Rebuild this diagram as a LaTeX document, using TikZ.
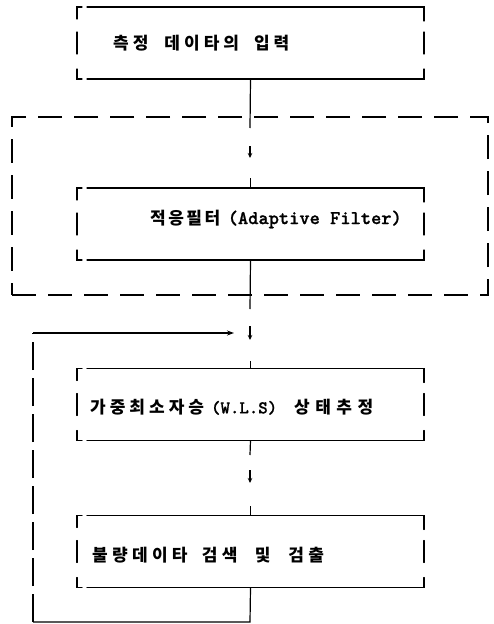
\documentclass[tikz,border=0pt]{standalone}
\usepackage{fontspec}
\usetikzlibrary{calc,arrows.meta}
\newfontfamily\krfont{Noto Sans CJK KR}
\newfontfamily\mofont{lmmonolt10-bold.otf}[FakeBold=1]
\newlength\lsp
\def\spacedchars#1{\spacedcharsi#1\relax}
\def\spacedcharsi#1{\ifx#1\relax\else#1\hspace{\lsp}\expandafter\spacedcharsi\fi}
\newcommand{\krtxt}[3]{{\krfont\bfseries\fontsize{#1}{#1}\selectfont\setlength\lsp{#2pt}\spacedchars{#3}}}
\newcommand{\motxt}[2]{{\mofont\fontsize{#1}{#1}\selectfont #2}}
\tikzset{
  frame/.style={line width=1.3pt, line cap=round},
  boxarea/.style={rectangle, minimum width=347pt, minimum height=72pt, inner sep=0pt, outer sep=0pt},
  label/.style={anchor=west, inner sep=0pt},
  conn/.style={line width=1.2pt},
  smallarrow/.style={line width=1.2pt, -{Stealth[length=5pt,width=4.5pt]}},
  dashbox/.style={rectangle, draw, line width=1.3pt, dash pattern=on 24pt off 12pt, minimum width=476pt, minimum height=178pt, inner sep=0pt},
}
\newcommand{\myboxframe}[1]{%
  \draw[frame] ($(#1.north west)+(0,-12pt)$) -- (#1.north west) -- ($(#1.north west)+(5pt,0)$);
  \draw[frame] ($(#1.north west)+(10pt,0)$) -- (#1.north east) -- ($(#1.north east)+(0,-14pt)$);
  \draw[frame] ($(#1.west)+(0,11pt)$) -- ($(#1.west)+(0,-11pt)$);
  \draw[frame] ($(#1.east)+(0,11pt)$) -- ($(#1.east)+(0,-11pt)$);
  \draw[frame] ($(#1.south west)+(0,10pt)$) -- (#1.south west) -- ($(#1.south west)+(5pt,0)$);
  \draw[frame] ($(#1.south west)+(10pt,0)$) -- (#1.south east) -- ($(#1.south east)+(0,10pt)$);
}
\begin{document}
\begin{tikzpicture}[x=1pt,y=-1pt]
\useasboundingbox (0,0) rectangle (493,624);
% boxes
\node[boxarea] (b1) at (250.5,43) {};
\node[boxarea] (b2) at (250.5,224) {};
\node[boxarea] (b3) at (250.5,404.5) {};
\node[boxarea] (b4) at (250.5,551.5) {};
\node[dashbox] (ad) at (250,206) {};
\myboxframe{b1}\myboxframe{b2}\myboxframe{b3}\myboxframe{b4}
% texts
\node[label] (t1) at (113,43) {\krtxt{17}{4}{측정}\hspace{12pt}\krtxt{17}{4}{데이타의}\hspace{11pt}\krtxt{17}{4}{입력}};
\node[label] (t2) at (150,219) {\krtxt{17}{2.5}{적응필터}\hspace{5pt}\motxt{19.5}{(Adaptive Filter)}};
\node[label] (t3) at (90,407) {\krtxt{17}{4}{가중최소자승}\hspace{3pt}\motxt{18}{(W.L.S)}\hspace{17pt}\krtxt{17}{5.5}{상태추정}};
\node[label] (t4) at (92,555) {\krtxt{17}{4.3}{불량데이타}\hspace{10pt}\krtxt{17}{4.3}{검색}\hspace{13pt}\krtxt{17}{4}{및}\hspace{14pt}\krtxt{17}{4.3}{검출}};
% connector coordinates
\coordinate (c1a) at (250,128);
\coordinate (a1s) at (250,146);
\coordinate (a1e) at (250,158);
\coordinate (c2a) at (250,309);
\coordinate (a2s) at (250,326);
\coordinate (a2e) at (250,340);
\coordinate (c3a) at (250,455);
\coordinate (a3s) at (250,470);
\coordinate (a3e) at (250,483);
\coordinate (fbA) at (250,622);
\coordinate (fbB) at (33,622);
\coordinate (fbC) at (33,333);
\coordinate (fbD) at (234,333);
% connectors
\draw[conn] (b1.south) -- (c1a);
\draw[smallarrow] (a1s) -- (a1e);
\draw[conn] (b2.north) -- ++(0,-10);
\draw[conn] (b2.south) -- (c2a);
\draw[smallarrow] (a2s) -- (a2e);
\draw[conn] (b3.north) -- ++(0,-8);
\draw[conn] (b3.south) -- (c3a);
\draw[smallarrow] (a3s) -- (a3e);
\draw[conn] (b4.north) -- ++(0,-10);
% feedback loop
\draw[conn] (b4.south) -- (fbA) -- (fbB);
\draw[conn, dash pattern=on 28pt off 8pt] (fbB) -- (fbC);
\draw[conn, -{Stealth[length=7pt,width=5pt]}] (fbC) -- (fbD);
\end{tikzpicture}
\end{document}
